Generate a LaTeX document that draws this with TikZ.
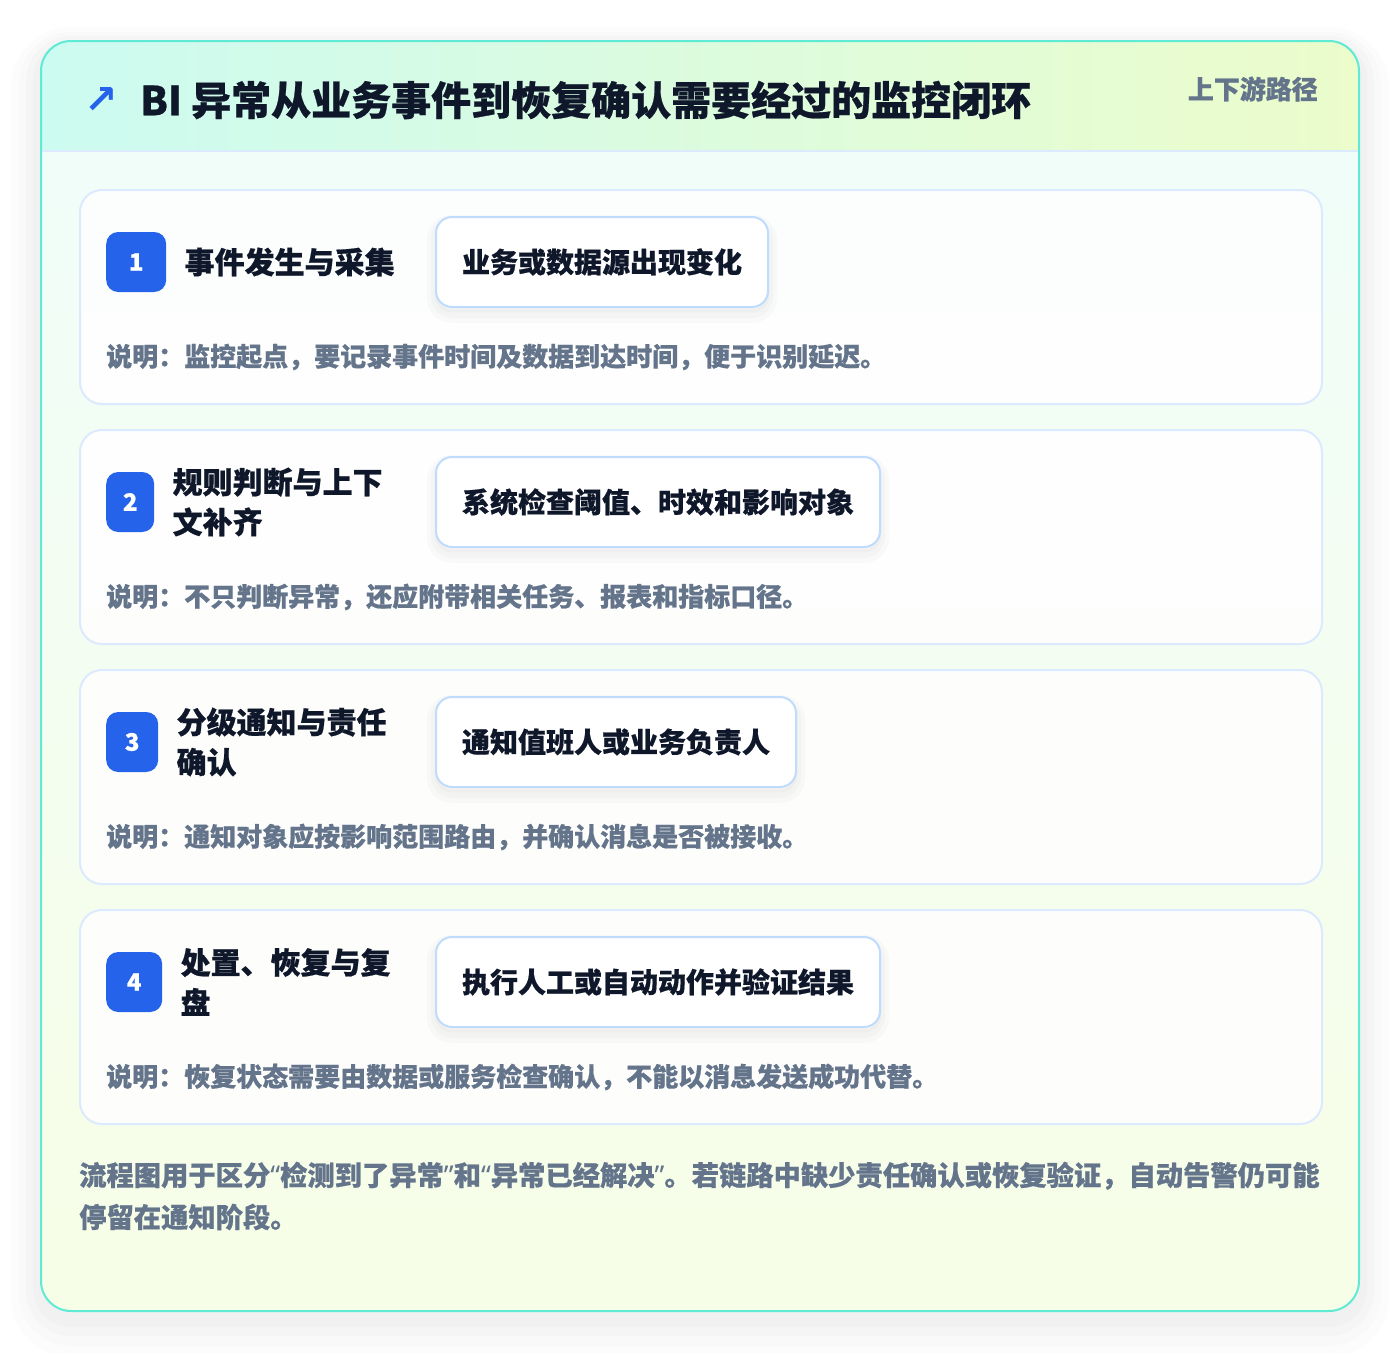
\documentclass[tikz,border=0pt]{standalone}
\usepackage{fontspec}
\setmainfont{Noto Sans CJK SC}[BoldFeatures={FakeBold=0.6}]
\newfontfamily\arrowfont{DejaVu Sans}
\newfontfamily\quotefont{Noto Sans}
\usepackage{tikz}
\usetikzlibrary{positioning}
\usepackage{xcolor}
\definecolor{tealline}{HTML}{5EEAD4}
\definecolor{headleft}{HTML}{CCFBF1}
\definecolor{headright}{HTML}{ECFCCB}
\definecolor{bodytop}{HTML}{F0FDFA}
\definecolor{bodybot}{HTML}{F7FEE7}
\definecolor{headrule}{HTML}{DBEAFE}
\definecolor{cardline}{HTML}{DBEAFE}
\definecolor{pillline}{HTML}{BFDBFE}
\definecolor{badgeblue}{HTML}{2563EB}
\definecolor{ink}{HTML}{0F172A}
\definecolor{muted}{HTML}{64748B}
\tikzstyle{mainframe} = [fill=white, rounded corners=30pt,
    preaction={draw=black, draw opacity=0.01, line width=60pt, transform canvas={yshift=-16pt}},
    preaction={draw=black, draw opacity=0.012, line width=44pt, transform canvas={yshift=-13pt}},
    preaction={draw=black, draw opacity=0.015, line width=30pt, transform canvas={yshift=-10pt}},
    preaction={draw=black, draw opacity=0.015, line width=16pt, transform canvas={yshift=-8pt}}]
\tikzstyle{stepcard} = [draw=cardline, line width=2pt, fill=white, fill opacity=0.85,
    rounded corners=22pt, minimum width=1242pt, minimum height=214pt,
    anchor=north west, inner sep=0pt]
\tikzstyle{badge} = [fill=badgeblue, text=white, rounded corners=12pt, minimum height=60pt,
    font=\fontsize{24}{24}\selectfont\bfseries, inner sep=0pt, anchor=west]
\tikzstyle{steptitle} = [text=ink, font=\fontsize{30}{40}\selectfont\bfseries,
    align=left, inner sep=0pt]
\tikzstyle{pill} = [draw=pillline, line width=2pt, fill=white, rounded corners=16pt,
    minimum height=90pt, inner xsep=26pt, text=ink, anchor=west,
    font=\fontsize{28}{28}\selectfont\bfseries,
    preaction={draw=black, draw opacity=0.02, line width=18pt, transform canvas={yshift=-7pt}},
    preaction={draw=black, draw opacity=0.02, line width=10pt, transform canvas={yshift=-6pt}},
    preaction={draw=black, draw opacity=0.02, line width=3pt, transform canvas={yshift=-4pt}}]
\tikzstyle{note} = [text=muted, font=\fontsize{26}{26}\selectfont\bfseries,
    inner sep=0pt, anchor=west]

\begin{document}
\begin{tikzpicture}[x=1pt, y=-1pt]
\useasboundingbox (0,0) rectangle (1400,1352);
\fill[white] (0,0) rectangle (1400,1352);

% outer frame with header band
\path[mainframe] (41,41) rectangle (1359,1311);
\begin{scope}
\clip[rounded corners=30pt] (41,41) rectangle (1359,1311);
\shade[top color=bodytop, bottom color=bodybot] (41,41) rectangle (1359,1311);
\shade[left color=headleft, right color=headright] (41,41) rectangle (1359,151);
\end{scope}
\draw[headrule, line width=2pt] (42,151) -- (1358,151);
\draw[tealline, line width=2pt, rounded corners=30pt] (41,41) rectangle (1359,1311);

\node[text=badgeblue, font=\arrowfont\bfseries\fontsize{40}{40}\selectfont, inner sep=0pt, anchor=west] (arrow) at (84,100) {↗};
\node[text=ink, font=\fontsize{40}{40}\selectfont\bfseries, inner sep=0pt, anchor=west] (title) at (140,100) {BI 异常从业务事件到恢复确认需要经过的监控闭环};
\node[text=muted, font=\fontsize{26}{26}\selectfont\bfseries, inner sep=0pt, anchor=east] (tag) at (1318,89) {上下游路径};

% step 1
\node[stepcard] (card1) at (79,189) {};
\node[badge, minimum width=60pt] (b1) at (106,262) {1};
\node[steptitle, right=18pt of b1] (t1) {事件发生与采集};
\node[pill] (p1) at (435,262) {业务或数据源出现变化};
\node[note] (n1) at (106,357) {说明：监控起点，要记录事件时间及数据到达时间，便于识别延迟。};

% step 2
\node[stepcard] (card2) at (79,429) {};
\node[badge, minimum width=48pt] (b2) at (106,502) {2};
\node[steptitle, right=18pt of b2] (t2) {规则判断与上下\\文补齐};
\node[pill] (p2) at (435,502) {系统检查阈值、时效和影响对象};
\node[note] (n2) at (106,597) {说明：不只判断异常，还应附带相关任务、报表和指标口径。};

% step 3
\node[stepcard] (card3) at (79,669) {};
\node[badge, minimum width=52pt] (b3) at (106,742) {3};
\node[steptitle, right=18pt of b3] (t3) {分级通知与责任\\确认};
\node[pill] (p3) at (435,742) {通知值班人或业务负责人};
\node[note] (n3) at (106,837) {说明：通知对象应按影响范围路由，并确认消息是否被接收。};

% step 4
\node[stepcard] (card4) at (79,909) {};
\node[badge, minimum width=56pt] (b4) at (106,982) {4};
\node[steptitle, right=18pt of b4] (t4) {处置、恢复与复\\盘};
\node[pill] (p4) at (435,982) {执行人工或自动动作并验证结果};
\node[note] (n4) at (106,1077) {说明：恢复状态需要由数据或服务检查确认，不能以消息发送成功代替。};

% footer
\node[note, font=\fontsize{27.3}{42}\selectfont\bfseries, align=left] (foot) at (79,1196)
    {流程图用于区分{\quotefont “}检测到了异常{\quotefont ”}和{\quotefont “}异常已经解决{\quotefont ”}。若链路中缺少责任确认或恢复验证，自动告警仍可能\\停留在通知阶段。};
\end{tikzpicture}
\end{document}
